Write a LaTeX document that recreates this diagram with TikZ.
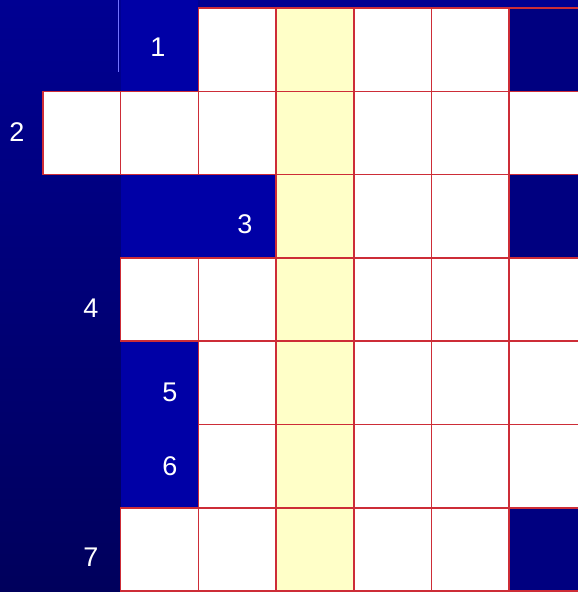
\documentclass[tikz,border=0pt]{standalone}
\usepackage{fontspec}
\setmainfont{Liberation Sans}
\definecolor{bgtop}{RGB}{0,0,146}
\definecolor{bgbot}{RGB}{0,0,92}
\definecolor{clueblue}{RGB}{0,0,166}
\definecolor{darkcell}{RGB}{0,0,128}
\definecolor{gridred}{RGB}{205,45,55}
\definecolor{keyyellow}{RGB}{255,255,200}
\usetikzlibrary{positioning}

\begin{document}
\begin{tikzpicture}[x=1pt,y=-1pt,
  cell/.style={draw=gridred,line width=1.5pt,fill=white},
  keycell/.style={cell,fill=keyyellow},
  blockcell/.style={cell,fill=darkcell},
  clue/.style={text=white,inner sep=0pt,font=\fontsize{27}{30}\selectfont}]
\useasboundingbox (0,0) rectangle (578,592);
\clip (0,0) rectangle (578,592);
% background and the lighter blue clue areas
\shade[top color=bgtop,bottom color=bgbot] (0,0) rectangle (578,592);
\fill[clueblue] (120.7,0) rectangle (198.4,91.3);
\fill[clueblue] (120.7,174.6) rectangle (276.1,257.9);
\fill[clueblue] (120.7,341.2) rectangle (198.4,507.8);
\draw[blue!55,line width=1.5pt] (118.5,0) -- (118.5,72);
% white cells: row/first column/last column
\foreach \r/\a/\b in {1/2/5,2/0/6,3/3/5,4/1/6,5/2/6,6/2/6,7/1/5} {
  \foreach \c in {\a,...,\b}
    \draw[cell] ({43+77.7*\c},{8+83.3*(\r-1)}) rectangle ++(77.7,83.3);
}
% the key column
\foreach \r in {1,...,7}
  \draw[keycell] ({43+77.7*3},{8+83.3*(\r-1)}) rectangle ++(77.7,83.3);
% dark cells at the right edge
\foreach \r in {1,3,7}
  \draw[blockcell] ({43+77.7*6},{8+83.3*(\r-1)}) rectangle ++(77.7,83.3);
% clue numbers
\node[clue] (n1) at (158,47) {1};
\node[clue] (n2) at (17,132) {2};
\node[clue] (n3) at (245,224) {3};
\node[clue] (n4) at (91,308) {4};
\node[clue] (n5) at (170,392) {5};
\node[clue] (n6) at (170,466) {6};
\node[clue] (n7) at (91,557) {7};
\end{tikzpicture}
\end{document}
